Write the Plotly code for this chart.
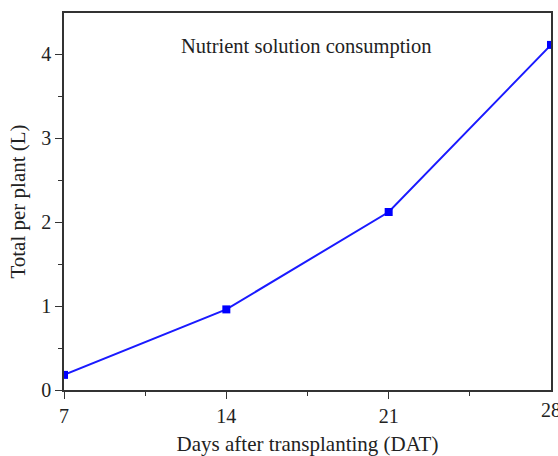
import plotly.graph_objects as go

days = [7, 14, 21, 28]
total_per_plant = [0.18, 0.96, 2.12, 4.11]
x_ticks = [7, 14, 21, 28]
y_ticks = [0, 1, 2, 3, 4]

font = "Liberation Serif, Times New Roman, serif"

fig = go.Figure()
fig.add_trace(go.Scatter(
    x=days, y=total_per_plant, mode="lines+markers",
    line=dict(color="#1a1aff", width=2),
    marker=dict(symbol="square", size=8, color="#0000ff"),
    cliponaxis=True, showlegend=False,
))

fig.update_layout(
    width=558, height=456,
    margin=dict(l=64, r=7, t=13, b=66),
    paper_bgcolor="white", plot_bgcolor="white",
    font=dict(family=font, size=20, color="#222"),
    xaxis=dict(
        range=[7, 28], tickvals=x_ticks[:-1], ticks="outside", ticklen=7,
        tickcolor="#333", showline=True, linecolor="#333", linewidth=1.5,
        mirror=True, showgrid=False, zeroline=False, automargin=False,
        minor=dict(tickvals=[10.5, 17.5, 24.5], ticks="outside", ticklen=4, tickcolor="#333"),
        title=dict(text="Days after transplanting (DAT)", font=dict(size=21), standoff=12),
    ),
    yaxis=dict(
        range=[0, 4.49], tickvals=y_ticks, ticks="outside", ticklen=7,
        tickcolor="#333", showline=True, linecolor="#333", linewidth=1.5,
        mirror=True, showgrid=False, zeroline=False, automargin=False,
        minor=dict(tickvals=[0.5, 1.5, 2.5, 3.5], ticks="outside", ticklen=4, tickcolor="#333"),
        title=dict(text="Total per plant (L)", font=dict(size=21), standoff=10),
    ),
    annotations=[
        dict(
            text="Nutrient solution consumption", x=0.497, y=0.91,
            xref="paper", yref="paper", showarrow=False,
            xanchor="center", yanchor="middle",
            font=dict(family=font, size=20.5, color="#222"),
        ),
        dict(
            text=str(x_ticks[-1]), x=x_ticks[-1], y=0, xref="x", yref="paper",
            xanchor="center", yanchor="top", yshift=-7, showarrow=False,
            font=dict(family=font, size=20, color="#222"),
        ),
    ],
)

fig.write_html("out.html")
